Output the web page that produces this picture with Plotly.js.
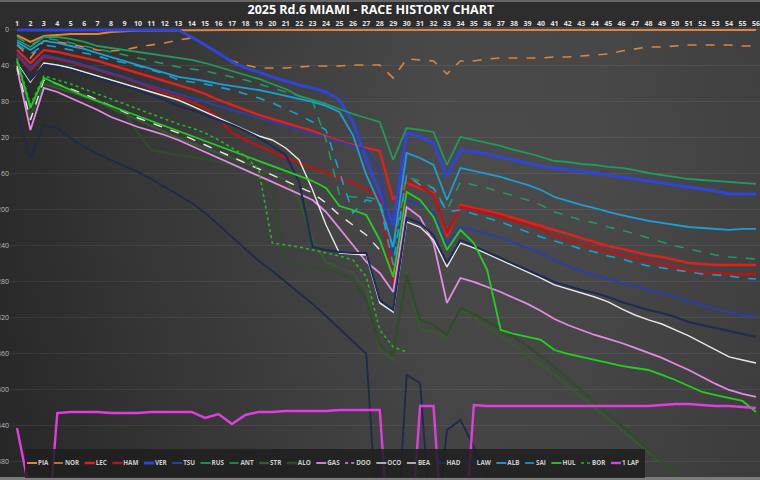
<!DOCTYPE html>
<html>
<head>
<meta charset="utf-8">
<script src="https://cdn.plot.ly/plotly-3.0.1.min.js"></script>
<style>
html, body { margin: 0; padding: 0; background: #333; }
#wrap { position: relative; width: 760px; height: 480px; overflow: hidden;
  background: linear-gradient(90deg, #2b2b2b 0%, #353535 15%, #424242 38%, #4b4b4b 58%, #4a4a4a 78%, #424242 100%); }
#shade { position: absolute; left: 0; top: 0; width: 760px; height: 480px;
  background: linear-gradient(180deg, rgba(0,0,0,0.06) 0%, rgba(0,0,0,0) 35%, rgba(0,0,0,0.10) 100%); }
#band { position: absolute; left: 0; top: 0; width: 760px; height: 27px; box-sizing: border-box;
  background: #2d2d2d; border-top: 2px solid #666; }
#foot { position: absolute; left: 0; bottom: 0; width: 760px; height: 3px; background: #7b7b7b; }
#chart { position: absolute; left: 0; top: 0; width: 760px; height: 480px; }
</style>
</head>
<body>
<div id="wrap"><div id="shade"></div><div id="band"></div><div id="foot"></div><div id="chart"></div></div>
<script>
// Lap numbers and gap-axis ticks
const laps = [1,2,3,4,5,6,7,8,9,10,11,12,13,14,15,16,17,18,19,20,21,22,23,24,25,26,27,28,
  29,30,31,32,33,34,35,36,37,38,39,40,41,42,43,44,45,46,47,48,49,50,51,52,53,54,55,56];
const gapTicks = [0,40,80,120,160,200,240,280,320,360,400,440,480];

// Gap to the race leader after each lap (one array per driver)
const PIA = [5.6,13.3,6.7,5.6,4.4,4.4,4.4,2.2,1.1,0.6,
  0.5,0.3,0,0,0,0,0,0,0,0,
  0,0,0,0,0,0,0,0,0,0,
  0,0,0,0,0,0,0,0,0,0,
  0,0,0,0,0,0,0,0,0,0,
  0,0,0,0,0,0];
const NOR = [16.7,31.1,12.2,13.3,15.6,18.9,22.2,23.3,22.2,18.9,
  16.7,14.4,11.1,8.9,16.7,25.6,34.4,38.9,42.2,42.2,
  42.2,41.1,40,40,40,38.9,38.9,38.9,53.3,32.2,
  33.3,34.4,48.9,34.4,34.4,32.2,31.1,31.1,31.1,31.1,
  30,30,28.9,27.8,26.7,23.3,21.1,18.9,18.9,17.8,
  16.7,16.7,16.7,16.7,17.8,17.8];
const LEC = [22.2,36.7,22.2,24.4,27.8,31.1,34.4,38.9,43.3,47.8,
  52.2,56.7,61.1,65.6,71.1,77.8,83.3,88.9,94.4,98.9,
  103.3,107.8,112.2,117.8,123.3,127.8,131.1,134.4,188.9,170,
  175.6,181.1,230,194.4,197.8,201.1,204.4,208.9,213.3,217.8,
  222.2,226.7,231.1,235.6,240,243.3,246.7,250,252.2,255.6,
  258.9,260,261.1,261.1,261.1,261.1];
const HAM = [27.8,44.4,30,32.2,35.6,40,44.4,48.9,53.3,58.9,
  64.4,70,74.4,80,86.7,97.8,114.4,122.2,128.9,135.6,
  142.2,147.8,153.3,158.9,164.4,170,177.8,185.6,280,166.7,
  173.3,183.3,225.6,196.7,200,203.3,207.8,212.2,216.7,221.1,
  228.9,233.3,237.8,242.2,246.7,250,253.3,256.7,260,263.3,
  266.7,268.9,270,271.1,271.1,271.1];
const VER = [0,0,0,0,0,0,0,0,0,0,
  0,0,0,7.8,16.7,25.6,35.6,42.2,46.7,52.2,
  56.7,61.1,64.4,68.9,77.8,102.2,144.4,181.1,216.7,114.4,
  118.9,125.6,163.3,133.3,135.6,137.8,141.1,144.4,147.8,151.1,
  153.3,155.6,156.7,158.9,161.1,163.3,165.6,167.8,170,172.2,
  174.4,176.7,178.9,182.2,182.2,182.2];
const TSU = [25.6,42.2,27.8,31.1,34.4,38.9,43.3,47.8,52.2,57.8,
  62.2,66.7,71.1,75.6,80,84.4,88.9,93.3,97.8,102.2,
  106.7,111.1,115.6,120,124.4,128.9,133.3,155.6,250,188.9,
  194.4,202.2,238.9,218.9,222.2,226.7,231.1,236.7,242.2,247.8,
  255.6,262.2,267.8,272.2,276.7,281.1,284.4,288.9,292.2,296.7,
  301.1,305.6,310,313.3,316.7,318.9];
const RUS = [11.1,18.9,7.8,7.8,10,13.3,17.8,20,22.2,24.4,
  26.7,28.9,31.1,33.3,36.7,41.1,45.6,50,54.4,60,
  65.6,73.3,77.8,82.2,87.8,93.3,97.8,102.2,144.4,108.9,
  111.1,113.3,150,118.9,122.2,125.6,128.9,133.3,136.7,141.1,
  145.6,146.7,148.9,150,152.2,153.3,155.6,158.9,161.1,163.3,
  165.6,166.7,167.8,168.9,170,171.1];
const ANT = [7.8,16.7,8.9,11.1,14.4,17.8,21.1,24.4,27.8,31.1,
  34.4,37.8,41.1,43.3,45.6,48.9,52.2,55.6,60,64.4,
  68.9,73.3,78.9,122.2,183.3,185.6,185.6,188.9,244.4,163.3,
  167.8,175.6,200,168.9,172.2,175.6,180,184.4,188.9,194.4,
  202.2,206.7,211.1,214.4,218.9,222.2,226.7,231.1,235.6,240,
  243.3,246.7,250,252.2,253.3,254.4];
const STR = [37.8,97.8,60,64.4,68.9,74.4,80,86.7,93.3,100,
  106.7,113.3,120,125.6,131.1,136.7,142.2,147.8,153.3,160,
  166.7,188.9,233.3,257.8,264.4,268.9,288.9,355.6,366.7,268.9,
  333.3,335.6,342.2,311.1,320,330,340,350,361.1,372.2,
  383.3,395.6,407.8,420,432.2,444.4,456.7,468.9,481.1,493.3,
  506.7,520,533.3,546.7,560,573.3];
const ALO = [36.7,95.6,57.8,62.2,66.7,72.2,77.8,84.4,91.1,114.4,
  133.3,136.7,138.9,141.1,143.3,146.7,151.1,155.6,161.1,177.8,
  255.6,262.2,264.4,266.7,270,277.8,300,350,361.1,272.2,
  322.2,327.8,338.9,308.9,315.6,323.3,332.2,341.1,351.1,362.2,
  374.4,386.7,400,413.3,426.7,440,453.3,466.7,480,493.3,
  506.7,520,533.3,546.7,560,573.3];
const GAS = [42.2,111.1,64.4,68.9,75.6,82.2,88.9,96.7,102.2,107.8,
  112.2,116.7,122.2,128.9,135.6,142.2,148.9,155.6,162.2,168.9,
  175.6,182.2,188.9,202.2,220,238.9,257.8,270,291.1,196.7,
  207.8,236.7,303.3,275.6,280,285.6,291.1,297.8,304.4,312.2,
  321.1,327.8,333.3,338.9,343.3,347.8,353.3,358.9,364.4,371.1,
  377.8,385.6,393.3,400,404.4,407.8];
const DOO = [null];
const OCO = [35.6,57.8,36.7,38.9,42.2,46.7,51.1,55.6,60,64.4,
  68.9,73.3,77.8,84.4,91.1,97.8,104.4,111.1,117.8,122.2,
  131.1,144.4,177.8,216.7,247.8,248.9,250,303.3,313.3,213.3,
  218.9,233.3,263.3,236.7,242.2,248.9,255.6,262.2,268.9,275.6,
  283.3,287.8,292.2,296.7,302.2,310,316.7,322.2,326.7,333.3,
  340,347.8,355.6,363.3,366.7,370];
const BEA = [40,100,55.6,60,65.6,71.1,77.8,84.4,91.1,97.8,
  103.3,108.9,114.4,121.1,127.8,134.4,141.1,147.8,154.4,161.1,
  167.8,174.4,181.1,192.2,205.6,216.7,227.8,244.4];
const HAD = [33.3,55.6,38.9,41.1,44.4,48.9,53.3,57.8,62.2,66.7,
  72.2,77.8,84.4,88.9,94.4,100,105.6,112.2,120,128.9,
  138.9,168.9,241.1,244.4,246.7,247.8,247.8,300,311.1,208.9,
  214.4,227.8,258.9,233.3,240,246.7,253.3,260,266.7,273.3,
  280,284.4,288.9,292.2,296.7,302.2,306.7,311.1,314.4,318.9,
  324.4,327.8,331.1,334.4,337.8,341.1];
const LAW = [92.2,142.2,105.6,108.9,120,130,137.8,144.4,151.1,157.8,
  165.6,174.4,183.3,192.2,203.3,216.7,230,243.3,256.7,267.8,
  280,292.2,304.4,317.8,332.2,345.6,360,588.9,633.3,383.3,
  392.2,588.9,444.4,433.3,463.3,497.8];
const ALB = [13.3,22.2,12.2,14.4,17.8,21.1,25.6,30,34.4,38.9,
  43.3,47.8,52.2,54.4,56.7,60,62.2,64.4,66.7,70,
  73.3,76.7,80,84.4,91.1,116.7,161.1,194.4,241.1,136.7,
  142.2,150,188.9,153.3,156.7,160,163.3,167.8,172.2,177.8,
  185.6,190,194.4,197.8,202.2,205.6,208.9,212.2,214.4,216.7,
  218.9,220,221.1,222.2,221.1,221.1];
const SAI = [15.6,26.7,16.7,18.9,22.2,25.6,28.9,33.3,36.7,40,
  44.4,48.9,55.6,57.8,60,63.3,66.7,71.1,75.6,81.1,
  87.8,94.4,102.2,111.1,157.8,203.3,188.9,192.2,261.1,161.1,
  172.2,175.6,202.2,200,204.4,208.9,213.3,218.9,224.4,230,
  234.4,238.9,243.3,246.7,251.1,254.4,258.9,262.2,264.4,266.7,
  268.9,271.1,272.2,273.3,275.6,276.7];
const HUL = [33.3,86.7,53.3,60,66.7,73.3,78.9,84.4,90,95.6,
  101.1,106.7,112.2,117.8,123.3,128.9,134.4,140,145.6,151.1,
  156.7,162.2,167.8,175.6,195.6,200,205.6,233.3,274.4,180,
  188.9,207.8,244.4,222.2,236.7,266.7,333.3,337.8,341.1,344.4,
  355.6,360,363.3,366.7,370,373.3,375.6,377.8,383.3,388.9,
  395.6,402.2,405.6,408.9,412.2,424.4];
const BOR = [31.1,83.3,51.1,55.6,60,65.6,71.1,76.7,82.2,87.8,
  93.3,98.9,104.4,108.9,114.4,122.2,131.1,140,155.6,236.7,
  238.9,241.1,244.4,247.8,251.1,255.6,274.4,333.3,352.2,357.8];
const ONE_LAP = [442.2,516.7,613.3,425.6,424.4,424.4,424.4,425.6,425.6,425.6,
  424.4,424.4,424.4,424.4,431.1,426.7,437.8,427.8,424.4,424.4,
  423.3,423.3,423.3,423.3,422.2,422.2,422.2,422.2,633.3,633.3,
  417.8,417.8,633.3,633.3,416.7,417.8,417.8,417.8,417.8,417.8,
  417.8,417.8,417.8,417.8,417.8,417.8,417.8,417.8,416.7,415.6,
  415.6,416.7,417.8,417.8,418.9,420];

const order = ['PIA','NOR','LEC','HAM','VER','TSU','RUS','ANT','STR','ALO','GAS',
  'DOO','OCO','BEA','HAD','LAW','ALB','SAI','HUL','BOR','1 LAP'];
const series = {PIA, NOR, LEC, HAM, VER, TSU, RUS, ANT, STR, ALO, GAS, DOO, OCO,
  BEA, HAD, LAW, ALB, SAI, HUL, BOR, '1 LAP': ONE_LAP};

// Line styling per driver
const look = {
  'PIA':   {color: '#e0843c', width: 2},
  'NOR':   {color: '#e0843c', width: 1.6, dash: 'dash'},
  'LEC':   {color: '#e3211c', width: 2.4},
  'HAM':   {color: '#b81616', width: 2.4},
  'VER':   {color: '#2f45d8', width: 3},
  'TSU':   {color: '#2b3fa6', width: 2},
  'RUS':   {color: '#1f9b5b', width: 1.8},
  'ANT':   {color: '#1f9b5b', width: 1.6, dash: 'dash'},
  'STR':   {color: '#3b5634', width: 2.4},
  'ALO':   {color: '#334b2d', width: 2.4},
  'GAS':   {color: '#e38be6', width: 1.8},
  'DOO':   {color: '#e38be6', width: 1.6, dash: 'dot'},
  'OCO':   {color: '#e8e8e8', width: 1.4},
  'BEA':   {color: '#e8e8e8', width: 1.4, dash: 'dash'},
  'HAD':   {color: '#1d2c55', width: 2},
  'LAW':   {color: '#1d2a4c', width: 1.8},
  'ALB':   {color: '#1c9fd8', width: 1.8},
  'SAI':   {color: '#1c9fd8', width: 1.6, dash: 'dash'},
  'HUL':   {color: '#22d022', width: 1.8},
  'BOR':   {color: '#22b822', width: 1.6, dash: 'dot'},
  '1 LAP': {color: '#e03ee0', width: 2.4}
};

const traces = order.map(name => ({
  type: 'scatter', mode: 'lines', name: name,
  x: laps.slice(0, series[name].length),
  y: series[name],
  line: look[name],
  connectgaps: false,
  hoverinfo: 'skip'
}));

const font = 'Open Sans, Lato, DejaVu Sans, sans-serif';
const layout = {
  width: 760, height: 480,
  margin: {l: 10, r: 0, t: 28, b: 3, pad: 0, autoexpand: false},
  paper_bgcolor: 'rgba(0,0,0,0)',
  plot_bgcolor: 'rgba(0,0,0,0)',
  title: {text: '2025 Rd.6 MIAMI - RACE HISTORY CHART', x: 0.488, xref: 'container',
    y: 0.979, yref: 'container', yanchor: 'middle',
    font: {family: font, size: 12.5, color: '#ffffff', weight: 'bold'}},
  xaxis: {side: 'top', range: [0.48, 56.3], tickmode: 'linear', tick0: 1, dtick: 1,
    tickangle: 0, ticks: '', showgrid: false, zeroline: false, showline: false,
    tickfont: {family: font, size: 7, color: '#e2e2e2', weight: 'bold'}},
  yaxis: {range: [496.7, -2.2], tickmode: 'array', tickvals: gapTicks,
    ticktext: gapTicks.map(String), ticks: '', zeroline: false, showline: false,
    gridcolor: 'rgba(255,255,255,0.07)', gridwidth: 1,
    tickfont: {family: font, size: 7, color: '#bcbcbc'}},
  showlegend: true,
  legend: {orientation: 'h', x: 0.02, xanchor: 'left', y: 0.5, yanchor: 'top',
    bgcolor: 'rgba(30,30,30,0.85)', borderwidth: 0, itemwidth: 30,
    font: {family: font, size: 6.3, color: '#cdcdcd', weight: 'bold'}}
};

Plotly.newPlot('chart', traces, layout, {staticPlot: true, displayModeBar: false}).then(gd => {
  // compact single-row legend along the bottom: short line samples, tight spacing
  const legend = gd.querySelector('g.legend');
  const items = legend.querySelectorAll('g.traces');
  let x = 0, y0 = null;
  items.forEach(it => {
    const m = /translate\(([-\d.]+)[ ,]+([-\d.]+)\)/.exec(it.getAttribute('transform') || '');
    if (y0 === null && m) y0 = parseFloat(m[2]);
    it.querySelectorAll('g.legendlines path').forEach(p => p.setAttribute('d', 'M2,0h10'));
    const t = it.querySelector('text.legendtext');
    t.setAttribute('x', 13);
    t.querySelectorAll('tspan').forEach(s => { if (s.hasAttribute('x')) s.setAttribute('x', 13); });
    const w = t.getComputedTextLength();
    it.setAttribute('transform', 'translate(' + x + ',' + y0 + ')');
    x += 13 + w + 3.5;
  });
  legend.querySelectorAll('[clip-path]').forEach(el => el.removeAttribute('clip-path'));
  const bg = legend.querySelector('rect.bg');
  if (bg) { bg.setAttribute('width', x + 2); bg.setAttribute('height', 2 * y0); }
  legend.setAttribute('transform', 'translate(25,' + (463 - y0) + ')');
});
</script>
</body>
</html>
